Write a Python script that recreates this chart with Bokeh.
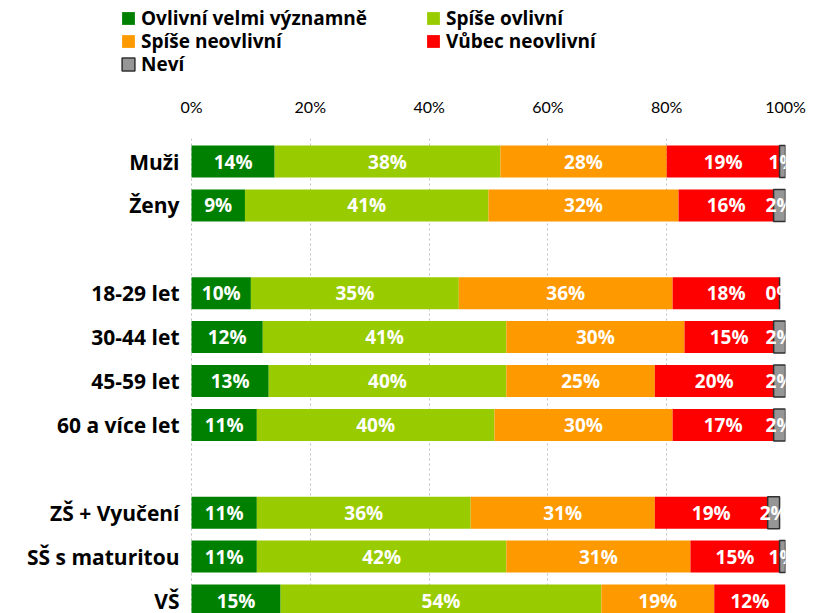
import numpy as np
from bokeh.plotting import figure
from bokeh.layouts import column
from bokeh.models import (Range1d, FixedTicker, PrintfTickFormatter, Legend, LegendItem,
                          ColumnDataSource)
from bokeh.core.properties import value
from bokeh.embed import file_html
from bokeh.resources import INLINE

# ---- data ----
groups = [
    ["Muži", "Ženy"],
    ["18-29 let", "30-44 let", "45-59 let", "60 a více let"],
    ["ZŠ + Vyučení", "SŠ s maturitou", "VŠ"],
]
series_names = ["Ovlivní velmi významně", "Spíše ovlivní", "Spíše neovlivní", "Vůbec neovlivní", "Neví"]
velmi      = [14, 9, 10, 12, 13, 11, 11, 11, 15]
spise_ovl  = [38, 41, 35, 41, 40, 40, 36, 42, 54]
spise_neo  = [28, 32, 36, 30, 25, 30, 31, 31, 19]
vubec_neo  = [19, 16, 18, 15, 20, 17, 19, 15, 12]
nevi       = [1, 2, 0, 2, 2, 2, 2, 1, None]   # VŠ: no "Neví" segment shown
x_ticks = [0, 20, 40, 60, 80, 100]

colors = ["#008000", "#99CC00", "#FF9900", "#FF0000", "#969696"]
FONT = "Open Sans"
AXFONT = "Lato"

# row positions (blank row between groups)
rows, cats = [], []
r = 0
for g in groups:
    for c in g:
        rows.append(r)
        cats.append(c)
        r += 1
    r += 1

series = [velmi, spise_ovl, spise_neo, vubec_neo, nevi]

W = 808
LEG_H = 85
PX_PER_PCT = 5.94          # 100 % spans 594 px
LEFT_PX = 191              # where 0 % sits

p = figure(width=W, height=613 - LEG_H, output_backend="svg", toolbar_location=None,
           x_axis_location="above", y_axis_location=None,
           x_range=Range1d(-LEFT_PX / PX_PER_PCT, 100), y_range=Range1d(10.296, -0.524),
           min_border_left=0, min_border_right=23, min_border_top=138 - LEG_H,
           min_border_bottom=0)
p.outline_line_color = None

# x axis
xa = p.xaxis[0]
xa.ticker = FixedTicker(ticks=x_ticks)
xa.formatter = PrintfTickFormatter(format="%d%%")
xa.axis_line_color = None
xa.major_tick_line_color = None
xa.minor_tick_line_color = None
xa.major_label_text_font = AXFONT
xa.major_label_text_font_size = "16px"
xa.major_label_text_color = "#000000"
xa.major_label_standoff = 17

# grid
p.ygrid.visible = False
p.xgrid.ticker = FixedTicker(ticks=x_ticks)
p.xgrid.grid_line_color = "#bfbfbf"
p.xgrid.grid_line_dash = "2 3"
p.xgrid.grid_line_width = 1

# category labels (left of the 0 % line)
p.text(x=[0] * len(rows), y=rows, text=cats, x_offset=-12,
       text_color="#000000", text_font=value(FONT), text_font_style="bold",
       text_font_size="21px", text_align="right", text_baseline="middle")

left = np.zeros(len(rows))
for i, (vals, col) in enumerate(zip(series, colors)):
    keep = [k for k, v in enumerate(vals) if v is not None]
    v = np.array([vals[k] for k in keep], dtype=float)
    lft = left[keep]
    rgt = lft + v
    src = ColumnDataSource(dict(y=[rows[k] for k in keep], left=lft, right=rgt,
                                mid=(lft + rgt) / 2,
                                lab=[f"{int(x)}%" for x in v]))
    if i == 4:
        p.hbar(y="y", left="left", right="right", height=0.729, source=src,
               fill_color=col, line_color="#303030", line_width=1.5)
    else:
        p.hbar(y="y", left="left", right="right", height=0.729, source=src,
               fill_color=col, line_color=None)
    p.text(x="mid", y="y", text="lab", source=src, text_color="white",
           text_font=value(FONT), text_font_style="bold", text_font_size="19px",
           text_align="center", text_baseline="middle")
    left[keep] = rgt

# ---- legend strip ----
lf = figure(width=W, height=LEG_H, output_backend="svg", toolbar_location=None,
            x_axis_location=None, y_axis_location=None,
            x_range=Range1d(0, 1), y_range=Range1d(0, 1),
            min_border_left=0, min_border_right=23, min_border_top=0, min_border_bottom=0)
lf.grid.visible = False
lf.outline_line_color = None
swatches = []
nan = float("nan")
for i, col in enumerate(colors):
    kw = dict(line_color="#303030", line_width=1.5) if i == 4 else dict(line_color=None)
    swatches.append(lf.hbar(y=[nan], left=[nan], right=[nan], height=0.5, fill_color=col, **kw))

legend_rows = [[0, 1], [2, 3], [4]]
row_bottoms = [54, 31, 8]
for idxs, vy in zip(legend_rows, row_bottoms):
    lg = Legend(items=[LegendItem(label=series_names[k], renderers=[swatches[k]]) for k in idxs],
                location=(120, vy), orientation="horizontal",
                padding=0, margin=0, spacing=0, border_line_color=None,
                background_fill_alpha=0, glyph_width=16, glyph_height=16,
                label_width=284, label_standoff=5,
                label_text_font=FONT, label_text_font_style="bold",
                label_text_font_size="19px", label_text_color="#000000")
    lf.add_layout(lg, "center")

open("out.html", "w").write(file_html(column(lf, p, spacing=0), INLINE))
